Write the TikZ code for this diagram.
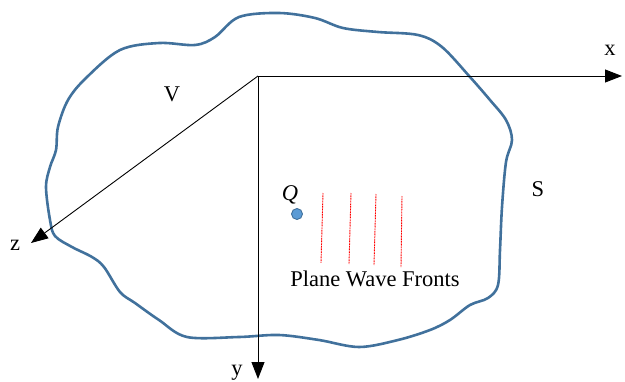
\documentclass[tikz,border=0pt]{standalone}
\usepackage{fontspec}
\setmainfont{Liberation Serif}
\usetikzlibrary{arrows.meta}
\definecolor{blobblue}{RGB}{65,113,156}
\definecolor{dotblue}{RGB}{91,155,213}
\begin{document}
\begin{tikzpicture}[x=1pt,y=-1pt,
  axis/.style={line width=0.9pt, -{Triangle[length=17pt,width=13pt]}},
  lbl/.style={font=\fontsize{22.5}{22.5}\selectfont, inner sep=0pt},
  front/.style={red, line width=0.9pt, dash pattern=on 1pt off 0.6pt}]
\useasboundingbox (0,0) rectangle (625,381);
% surface S
\draw[blobblue, line width=2.6pt] plot[smooth cycle, tension=0.55] coordinates {
 (58,127) (68,100) (86,78) (120,50) (159,43) (195,45) (215,37) (239,17) (279,13)
 (315,18) (343,28) (378,32) (418,35) (442,47) (470,77) (490,100) (506,120) (512,140)
 (506,162) (502,207) (500,250) (498,285) (488,298) (470,305) (450,320) (430,330) (398,340)
 (359,347) (319,340) (279,335) (239,337) (187,337) (159,320) (135,303)
 (120,292) (104,267) (92,257) (72,247) (55,236) (50,220) (46,187) (50,167) (56,150)};
% axes
\coordinate (O) at (258,76);
\coordinate (X) at (622,76);
\coordinate (Y) at (258,379);
\coordinate (Z) at (31,243);
\draw[axis] (O) -- (X);
\draw[axis] (O) -- (Y);
\draw[axis] (O) -- (Z);
\node[lbl] (xl) at (610,50) {x};
\node[lbl] (yl) at (237,373) {y};
\node[lbl] (zl) at (15,245) {z};
\node[lbl] (V) at (172,94) {V};
\node[lbl] (S) at (538,189) {S};
\node[lbl] (Q) at (290,195) {\itshape Q};
\node[circle, fill=dotblue, draw=blobblue, line width=0.9pt, minimum size=11pt, inner sep=0pt] (dot) at (297,214) {};
% plane wave fronts
\coordinate (f1a) at (323,193); \coordinate (f1b) at (321,263);
\coordinate (f2a) at (351,193); \coordinate (f2b) at (349,264);
\coordinate (f3a) at (376,194); \coordinate (f3b) at (374,265);
\coordinate (f4a) at (402,196); \coordinate (f4b) at (401,267);
\draw[front] (f1a) -- (f1b);
\draw[front] (f2a) -- (f2b);
\draw[front] (f3a) -- (f3b);
\draw[front] (f4a) -- (f4b);
\node[lbl] (pwf) at (375,279) {Plane Wave Fronts};
\end{tikzpicture}
\end{document}
